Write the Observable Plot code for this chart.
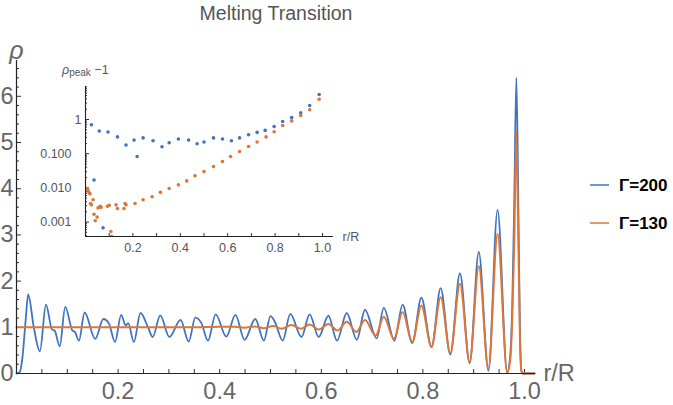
<!DOCTYPE html>
<html>
<head>
<meta charset="utf-8">
<script src="https://cdn.jsdelivr.net/npm/d3@7"></script>
<script src="https://cdn.jsdelivr.net/npm/@observablehq/plot@0.6"></script>
<style>
  body { margin: 0; background: white; }
  #wrap { position: relative; width: 673px; height: 405px; }
</style>
</head>
<body>
<div id="wrap"></div>
<script>
// ---------- data ----------
const title = "Melting Transition";
const seriesLabels = ["Γ=200", "Γ=130"];
const blue = "#3f74c0", orange = "#dc7639";

// main panel: density profile rho(r/R)
const blueR = [0, 0.006, 0.011, 0.018, 0.023, 0.034, 0.046, 0.058, 0.070, 0.075, 0.085, 0.096, 0.110, 0.115, 0.123, 0.134, 0.155, 0.171, 0.182, 0.194, 0.206, 0.215, 0.220, 0.231, 0.244, 0.260, 0.268, 0.283, 0.301, 0.323, 0.339, 0.352, 0.364, 0.377, 0.392, 0.413, 0.431, 0.449, 0.470, 0.487, 0.500, 0.509, 0.524, 0.539, 0.561, 0.577, 0.595, 0.614, 0.631, 0.650, 0.670, 0.686, 0.709, 0.723, 0.744, 0.760, 0.779, 0.797, 0.817, 0.835, 0.854, 0.873, 0.892, 0.910, 0.929, 0.947, 0.966, 0.972, 0.976, 0.980, 0.984, 0.988, 0.991, 0.994, 0.997, 1.020];
const blueRho = [0.00, 0.03, 0.28, 1.15, 1.71, 1.00, 0.48, 1.49, 0.95, 0.93, 0.59, 1.44, 0.93, 0.90, 0.71, 1.32, 0.75, 1.18, 1.08, 0.68, 1.27, 1.04, 1.09, 0.68, 1.31, 0.97, 0.79, 1.26, 0.79, 1.16, 0.69, 1.21, 1.09, 0.71, 1.28, 0.80, 1.27, 0.73, 1.18, 0.71, 1.24, 1.11, 0.71, 1.29, 0.79, 1.28, 0.79, 1.25, 0.71, 1.31, 0.73, 1.38, 0.76, 1.42, 0.71, 1.49, 0.66, 1.64, 0.57, 1.85, 0.41, 2.17, 0.22, 2.63, 0.06, 3.54, 0.01, 0.40, 1.50, 3.80, 6.40, 3.60, 1.00, 0.05, 0.00, 0.00];

const orangeR = [0, 0.1, 0.2, 0.3, 0.35, 0.40, 0.43, 0.449, 0.470, 0.487, 0.505, 0.522, 0.541, 0.560, 0.577, 0.595, 0.614, 0.632, 0.650, 0.669, 0.686, 0.707, 0.723, 0.743, 0.760, 0.779, 0.797, 0.817, 0.835, 0.854, 0.873, 0.892, 0.910, 0.929, 0.947, 0.966, 0.972, 0.976, 0.980, 0.984, 0.988, 0.991, 0.994, 0.997, 1.020];
const orangeRho = [1.00, 1.00, 1.00, 1.00, 1.00, 1.01, 1.01, 0.99, 1.02, 0.98, 1.03, 0.97, 1.05, 0.97, 1.06, 0.95, 1.07, 0.93, 1.12, 0.90, 1.16, 0.82, 1.23, 0.75, 1.33, 0.68, 1.47, 0.58, 1.65, 0.44, 1.94, 0.25, 2.32, 0.10, 3.02, 0.03, 0.30, 1.20, 2.90, 5.25, 2.80, 0.80, 0.05, 0.00, 0.00];

// inset: rho_peak - 1 (log scale)
const insetBlueR = [0.025, 0.036, 0.058, 0.074, 0.095, 0.135, 0.171, 0.205, 0.218, 0.243, 0.285, 0.323, 0.353, 0.392, 0.435, 0.471, 0.500, 0.540, 0.578, 0.616, 0.650, 0.688, 0.724, 0.758, 0.796, 0.832, 0.870, 0.908, 0.946, 0.986];
const insetBlueV = [0.70, 0.017, 0.46, 0.00068, 0.43, 0.31, 0.18, 0.25, 0.083, 0.29, 0.24, 0.16, 0.21, 0.27, 0.25, 0.195, 0.22, 0.29, 0.27, 0.24, 0.29, 0.36, 0.42, 0.48, 0.62, 0.87, 1.14, 1.57, 2.57, 5.4];
const insetOrangeR = [0.004, 0.011, 0.015, 0.019, 0.021, 0.025, 0.032, 0.036, 0.041, 0.049, 0.053, 0.062, 0.066, 0.093, 0.100, 0.107, 0.110, 0.129, 0.135, 0.162, 0.167, 0.171, 0.209, 0.243, 0.281, 0.316, 0.353, 0.392, 0.427, 0.462, 0.500, 0.540, 0.578, 0.612, 0.650, 0.688, 0.724, 0.762, 0.796, 0.832, 0.870, 0.908, 0.946, 0.986];
const insetOrangeV = [0.0098, 0.0083, 0.0072, 0.0067, 0.0035, 0.0032, 0.0045, 0.0017, 0.0011, 0.0014, 0.0026, 0.0029, 0.0027, 0.0029, 0.0031, 0.00053, 0.00038, 0.0032, 0.0025, 0.0025, 0.0035, 0.0032, 0.0035, 0.0045, 0.0055, 0.0074, 0.0096, 0.0123, 0.016, 0.0225, 0.030, 0.042, 0.059, 0.083, 0.116, 0.162, 0.22, 0.31, 0.44, 0.67, 0.91, 1.31, 1.92, 3.9];

// ticks
const mainXLabels = [0.2, 0.4, 0.6, 0.8, 1.0];
const mainXTicks = [0.05, 0.1, 0.15, 0.2, 0.25, 0.3, 0.35, 0.4, 0.45, 0.5, 0.55, 0.6, 0.65, 0.7, 0.75, 0.8, 0.85, 0.9, 0.95, 1.0];
const mainYLabels = [0, 1, 2, 3, 4, 5, 6];
const mainYMinor = [0.2, 0.4, 0.6, 0.8, 1.2, 1.4, 1.6, 1.8, 2.2, 2.4, 2.6, 2.8, 3.2, 3.4, 3.6, 3.8, 4.2, 4.4, 4.6, 4.8, 5.2, 5.4, 5.6, 5.8, 6.2, 6.4, 6.6];
const insetXLabels = [0.2, 0.4, 0.6, 0.8, 1.0];
const insetXTicks = [0.1, 0.2, 0.3, 0.4, 0.5, 0.6, 0.7, 0.8, 0.9, 1.0];
const insetYMajor = [0.001, 0.01, 0.1, 1];
const insetYMinor = [0.0004, 0.0005, 0.0006, 0.0007, 0.0008, 0.0009, 0.002, 0.003, 0.004, 0.005, 0.006, 0.007, 0.008, 0.009, 0.02, 0.03, 0.04, 0.05, 0.06, 0.07, 0.08, 0.09, 0.2, 0.3, 0.4, 0.5, 0.6, 0.7, 0.8, 0.9, 2, 3, 4, 5, 6, 7, 8, 9];

// ---------- build ----------
const font = "'Liberation Sans', Arial, Helvetica, sans-serif";
const blueData = blueR.map((r, i) => ({r, rho: blueRho[i]}));
const orangeData = orangeR.map((r, i) => ({r, rho: orangeRho[i]}));
const insetBlue = insetBlueR.map((r, i) => ({r, v: insetBlueV[i]}));
const insetOrange = insetOrangeR.map((r, i) => ({r, v: insetOrangeV[i]}));

const W = 673, H = 405;
const mM = {left: 16, right: 138, top: 60, bottom: 32};
const mFrameW = W - mM.left - mM.right, mFrameH = H - mM.top - mM.bottom;

const main = Plot.plot({
  width: W, height: H,
  marginLeft: mM.left, marginRight: mM.right, marginTop: mM.top, marginBottom: mM.bottom,
  x: {domain: [0, 1.0217]},
  y: {domain: [0, 6.775]},
  style: {fontFamily: font, background: "white", overflow: "visible"},
  marks: [
    Plot.tickX(mainXTicks, {x: d => d, insetTop: mFrameH - 4, stroke: "#333"}),
    Plot.tickY(mainYLabels, {y: d => d, insetRight: mFrameW - 5, stroke: "#333"}),
    Plot.tickY(mainYMinor, {y: d => d, insetRight: mFrameW - 3, stroke: "#333"}),
    Plot.axisX({ticks: mainXLabels, tickFormat: d3.format(".1f"), tickSize: 0, tickPadding: 9, fontSize: 23.5, color: "#666", fill: "#666", label: null}),
    Plot.axisY({ticks: mainYLabels, tickFormat: d => String(d), tickSize: 0, tickPadding: 3, fontSize: 23.5, color: "#666", fill: "#666", label: null}),
    Plot.line(blueData, {x: "r", y: "rho", stroke: blue, strokeWidth: 1.8, curve: "monotone-x"}),
    Plot.line(orangeData, {x: "r", y: "rho", stroke: orange, strokeWidth: 2, curve: "monotone-x"}),
    Plot.ruleY([0], {stroke: "#222", strokeWidth: 1.2}),
    Plot.ruleX([0], {stroke: "#222", strokeWidth: 1.2}),
    Plot.text([title], {frameAnchor: "top", dy: -47, fontSize: 19.5, fill: "#555", lineAnchor: "middle"}),
    Plot.text(["ρ"], {frameAnchor: "top-left", dy: -19, textAnchor: "middle", fontSize: 25, fontStyle: "italic", fill: "#666"}),
    Plot.text(["r/R"], {frameAnchor: "bottom-right", dx: 8, textAnchor: "start", lineAnchor: "middle", fontSize: 23.5, fill: "#666"})
  ]
});

// legend
const msvg = d3.select(main);
const colors = [blue, orange];
seriesLabels.forEach((lab, i) => {
  const y = 185 + i * 38;
  msvg.append("line").attr("x1", 590).attr("x2", 609).attr("y1", y).attr("y2", y)
    .attr("stroke", colors[i]).attr("stroke-width", 1.5);
  msvg.append("text").attr("x", 619).attr("y", y).attr("dy", "0.35em")
    .attr("text-anchor", "start")
    .attr("font-size", 17).attr("font-weight", "bold").attr("fill", "#000")
    .attr("font-family", font).text(lab);
});

const iM = {left: 85, right: 340, top: 86, bottom: 169};
const iFrameW = W - iM.left - iM.right, iFrameH = H - iM.top - iM.bottom;
const yLo = Math.pow(10, -3.421), yHi = Math.pow(10, 0.965);

const inset = Plot.plot({
  width: W, height: H,
  marginLeft: iM.left, marginRight: iM.right, marginTop: iM.top, marginBottom: iM.bottom,
  x: {domain: [0, 1.0464]},
  y: {type: "log", domain: [yLo, yHi]},
  style: {fontFamily: font, background: "transparent", position: "absolute", left: "0px", top: "0px", overflow: "visible"},
  marks: [
    Plot.tickX(insetXTicks, {x: d => d, insetTop: iFrameH - 3, stroke: "#333"}),
    Plot.tickY(insetYMajor, {y: d => d, insetRight: iFrameW - 4, stroke: "#333"}),
    Plot.tickY(insetYMinor.filter(v => v > yLo && v < yHi), {y: d => d, insetRight: iFrameW - 2, stroke: "#333"}),
    Plot.axisX({ticks: insetXLabels, tickFormat: d3.format(".1f"), tickSize: 0, tickPadding: 7, fontSize: 12.5, color: "#555", fill: "#555", label: null}),
    Plot.axisY({ticks: [1], tickFormat: d => "1", tickSize: 0, tickPadding: 4, fontSize: 12.5, color: "#555", fill: "#555", label: null}),
    Plot.axisY({ticks: [0.1, 0.01, 0.001], tickFormat: d3.format(".3f"), tickSize: 0, tickPadding: 14, fontSize: 12.5, color: "#555", fill: "#555", label: null}),
    Plot.dot(insetBlue, {x: "r", y: "v", r: 1.8, fill: blue, stroke: null, clip: true}),
    Plot.dot(insetOrange, {x: "r", y: "v", r: 1.8, fill: orange, stroke: null, clip: true}),
    Plot.ruleY([yLo], {stroke: "#222", strokeWidth: 1.1}),
    Plot.ruleX([0], {stroke: "#222", strokeWidth: 1.1}),
    Plot.text(["r/R"], {frameAnchor: "bottom-right", dx: 9, textAnchor: "start", lineAnchor: "middle", fontSize: 12.5, fill: "#555"})
  ]
});

const t = d3.select(inset).append("text").attr("x", 62).attr("y", 74)
  .attr("text-anchor", "start")
  .attr("font-size", 12.5).attr("fill", "#555").attr("font-family", font);
t.append("tspan").attr("font-style", "italic").text("ρ");
t.append("tspan").attr("font-size", 10).attr("dy", 1.5).text("peak");
t.append("tspan").attr("dy", -1.5).text(" −1");

const wrap = document.getElementById("wrap");
wrap.appendChild(main);
wrap.appendChild(inset);
</script>
</body>
</html>
